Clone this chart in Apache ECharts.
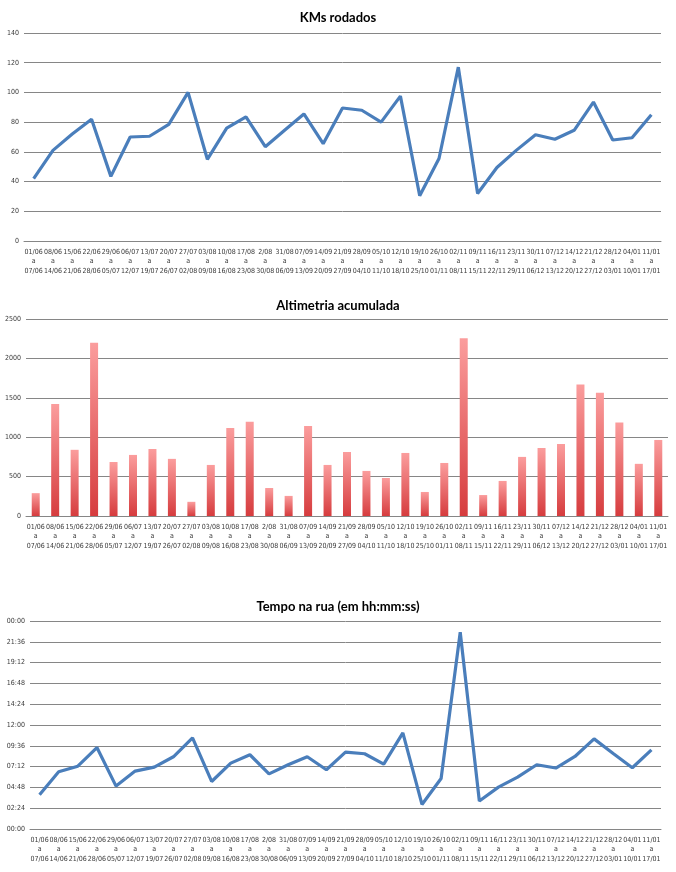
<!DOCTYPE html>
<html>
<head>
<meta charset="utf-8">
<script src="https://cdn.jsdelivr.net/npm/echarts@6/dist/echarts.min.js"></script>
<style>
  html, body { margin: 0; padding: 0; background: #fff; }
  #chart { width: 676px; height: 872px; }
</style>
</head>
<body>
<div id="chart"></div>
<script>
// semanas (inicio / fim)
var weekStart = ['01/06', '08/06', '15/06', '22/06', '29/06', '06/07', '13/07', '20/07', '27/07', '03/08', '10/08',
    '17/08', '2/08', '31/08', '07/09', '14/09', '21/09', '28/09', '05/10', '12/10', '19/10', '26/10', '02/11',
    '09/11', '16/11', '23/11', '30/11', '07/12', '14/12', '21/12', '28/12', '04/01', '11/01'];
var weekEnd = ['07/06', '14/06', '21/06', '28/06', '05/07', '12/07', '19/07', '26/07', '02/08', '09/08', '16/08',
    '23/08', '30/08', '06/09', '13/09', '20/09', '27/09', '04/10', '11/10', '18/10', '25/10', '01/11', '08/11',
    '15/11', '22/11', '29/11', '06/12', '13/12', '20/12', '27/12', '03/01', '10/01', '17/01'];

// KMs rodados
var kms = [42, 61, 72, 82, 43.5, 70, 70.5, 78.5, 100, 55, 76, 83.5, 63.5, 74.5, 85.5, 65.5, 89.5, 88, 80, 97.5,
    30.5, 55.5, 117, 32, 49.5, 61, 71.5, 68.5, 74.5, 93.5, 68, 69.5, 85];

// Altimetria acumulada (m)
var altimetria = [290, 1420, 840, 2200, 685, 775, 850, 725, 180, 648, 1118, 1195, 355, 255, 1143, 648, 812, 572,
    482, 800, 305, 673, 2255, 266, 445, 750, 863, 914, 1670, 1565, 1185, 662, 965];

// Tempo na rua (minutos)
var tempo = [237, 396, 435, 564, 297, 401, 428, 500, 631, 329, 456, 514, 382, 445, 500, 410, 532, 521, 449, 666,
    170, 350, 1362, 194, 290, 359, 445, 422, 502, 624, 523, 424, 548];

var categories = weekStart.map(function (s, i) {
    return s + '\na\n' + weekEnd[i];
});

var FONT = 'Lato, "Open Sans", sans-serif';
var LABEL_FONT = '"Liberation Sans Narrow", "DejaVu Sans Condensed", Lato, sans-serif';
var GRID_COLOR = '#868686';
var LINE_COLOR = '#4a7ebb';

function fmtTime(v) {
    var h = Math.floor(v / 60) % 24;
    var m = Math.round(v % 60);
    return (h < 10 ? '0' : '') + h + ':' + (m < 10 ? '0' : '') + m;
}

function fmtPlain(v) {
    return String(v);
}

function xAxisFor(idx) {
    return {
        type: 'category',
        gridIndex: idx,
        data: categories,
        boundaryGap: true,
        axisLine: { lineStyle: { color: GRID_COLOR } },
        axisTick: { show: false },
        axisLabel: {
            interval: 0,
            fontFamily: LABEL_FONT,
            fontSize: 7,
            lineHeight: 9.5,
            color: '#3a3a3a',
            margin: 6
        }
    };
}

function yAxisFor(idx, max, interval, formatter) {
    return {
        type: 'value',
        gridIndex: idx,
        min: 0,
        max: max,
        interval: interval,
        axisLine: { show: false },
        axisTick: { show: false },
        splitLine: { lineStyle: { color: GRID_COLOR, width: 1 } },
        axisLabel: {
            fontFamily: LABEL_FONT,
            fontSize: 7,
            color: '#3a3a3a',
            margin: 5,
            formatter: formatter
        }
    };
}

var titleStyle = { fontFamily: FONT, fontSize: 13, fontWeight: 'bold', color: '#000' };

var option = {
    animation: false,
    backgroundColor: '#fff',
    title: [
        { text: 'KMs rodados', left: 'center', top: 6, textStyle: titleStyle },
        { text: 'Altimetria acumulada', left: 'center', top: 294, textStyle: titleStyle },
        { text: 'Tempo na rua (em hh:mm:ss)', left: 'center', top: 595, textStyle: titleStyle }
    ],
    grid: [
        { left: 24, right: 15, top: 33, height: 208 },
        { left: 26, right: 8, top: 319, height: 197 },
        { left: 30, right: 15, top: 621, height: 208 }
    ],
    xAxis: [xAxisFor(0), xAxisFor(1), xAxisFor(2)],
    yAxis: [
        yAxisFor(0, 140, 20, fmtPlain),
        yAxisFor(1, 2500, 500, fmtPlain),
        yAxisFor(2, 1440, 144, fmtTime)
    ],
    series: [
        {
            name: 'KMs rodados',
            type: 'line',
            xAxisIndex: 0,
            yAxisIndex: 0,
            data: kms,
            symbol: 'none',
            lineStyle: { color: LINE_COLOR, width: 3.2 }
        },
        {
            name: 'Altimetria acumulada',
            type: 'bar',
            xAxisIndex: 1,
            yAxisIndex: 1,
            data: altimetria,
            barWidth: 8,
            itemStyle: {
                color: new echarts.graphic.LinearGradient(0, 0, 0, 1, [
                    { offset: 0, color: '#fb9d9d' },
                    { offset: 1, color: '#d63c3e' }
                ])
            }
        },
        {
            name: 'Tempo na rua',
            type: 'line',
            xAxisIndex: 2,
            yAxisIndex: 2,
            data: tempo,
            symbol: 'none',
            lineStyle: { color: LINE_COLOR, width: 3.2 }
        }
    ]
};

var chart = echarts.init(document.getElementById('chart'));
chart.setOption(option);
</script>
</body>
</html>
